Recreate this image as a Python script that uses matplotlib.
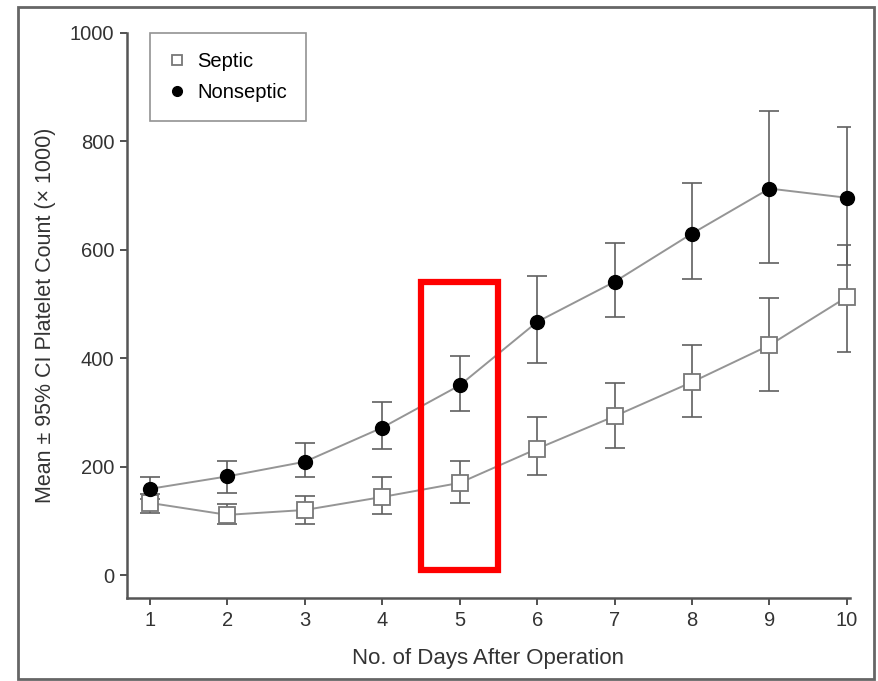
import matplotlib
matplotlib.use("Agg")
import matplotlib.pyplot as plt
from matplotlib.patches import Rectangle

plt.rcParams['font.family'] = ['Liberation Sans Narrow', 'Liberation Sans', 'DejaVu Sans']

days = [1, 2, 3, 4, 5, 6, 7, 8, 9, 10]

# Septic patients: mean and 95% CI bounds (x 1000)
septic_mean = [133, 111, 120, 144, 170, 233, 293, 356, 424, 513]
septic_low = [115, 94, 94, 113, 133, 185, 235, 291, 339, 411]
septic_high = [150, 131, 146, 180, 211, 291, 354, 424, 511, 609]

# Nonseptic patients
nonsep_mean = [159, 182, 209, 272, 350, 467, 541, 630, 713, 696]
nonsep_low = [140, 152, 181, 233, 302, 391, 476, 546, 576, 572]
nonsep_high = [180, 211, 244, 320, 405, 552, 613, 724, 856, 826]

W, H = 879, 681
fig = plt.figure(figsize=(W / 100, H / 100), dpi=100)
ax = fig.add_axes([127 / W, 1 - 598 / H, (850 - 127) / W, (598 - 33) / H])

line_col = "#959595"
err_col = "#606060"

sep_err = [[m - l for m, l in zip(septic_mean, septic_low)],
           [h - m for m, h in zip(septic_mean, septic_high)]]
non_err = [[m - l for m, l in zip(nonsep_mean, nonsep_low)],
           [h - m for m, h in zip(nonsep_mean, nonsep_high)]]

ax.errorbar(days, septic_mean, yerr=sep_err, fmt="none", ecolor=err_col,
            elinewidth=1.2, capsize=7, capthick=1.2, zorder=2)
ax.errorbar(days, nonsep_mean, yerr=non_err, fmt="none", ecolor=err_col,
            elinewidth=1.2, capsize=7, capthick=1.2, zorder=2)

ax.plot(days, septic_mean, color=line_col, lw=1.4, marker="s", ms=11,
        mfc="white", mec="#777777", mew=1.3, label="Septic", zorder=3,
        clip_on=False)
ax.plot(days, nonsep_mean, color=line_col, lw=1.4, marker="o", ms=10,
        mfc="black", mec="black", label="Nonseptic", zorder=3, clip_on=False)

ax.set_xlim(0.703, 10.04)
ax.set_ylim(-42.4, 1000)
ax.set_xticks(days)
ax.set_yticks([0, 200, 400, 600, 800, 1000])
ax.tick_params(labelsize=14.5, colors="#333333", length=5, width=1.2,
               direction="out", pad=4)
for s in ["top", "right"]:
    ax.spines[s].set_visible(False)
for s in ["left", "bottom"]:
    ax.spines[s].set_color("#555555")
    ax.spines[s].set_linewidth(1.8)

ax.set_xlabel("No. of Days After Operation", fontsize=16, color="#333333",
              labelpad=13)
ax.set_ylabel("Mean \u00b1 95% CI Platelet Count (\u00d7 1000)", fontsize=15.5,
              color="#333333", labelpad=10)

leg = ax.legend(loc="upper left", bbox_to_anchor=(0.032, 1.0), borderaxespad=0,
                fontsize=14.5, frameon=True, fancybox=False, edgecolor="#777777",
                handlelength=0.8, handletextpad=0.6, borderpad=0.95,
                labelspacing=0.6, markerscale=0.7)
leg.get_frame().set_linewidth(1.2)
for h in leg.get_lines():
    h.set_linestyle("none")

# red highlight box around day 5
ax.add_patch(Rectangle((4.5, 10), 1.0, 530, fill=False, edgecolor="#ff0000",
                       lw=4.5, clip_on=False, zorder=5))

# outer frame of the figure
fig.add_artist(Rectangle((18 / W, 1 - 679 / H), (874 - 18) / W, (679 - 7) / H,
                         transform=fig.transFigure, fill=False,
                         edgecolor="#666666", lw=2))

fig.savefig("out.png", dpi=100)
